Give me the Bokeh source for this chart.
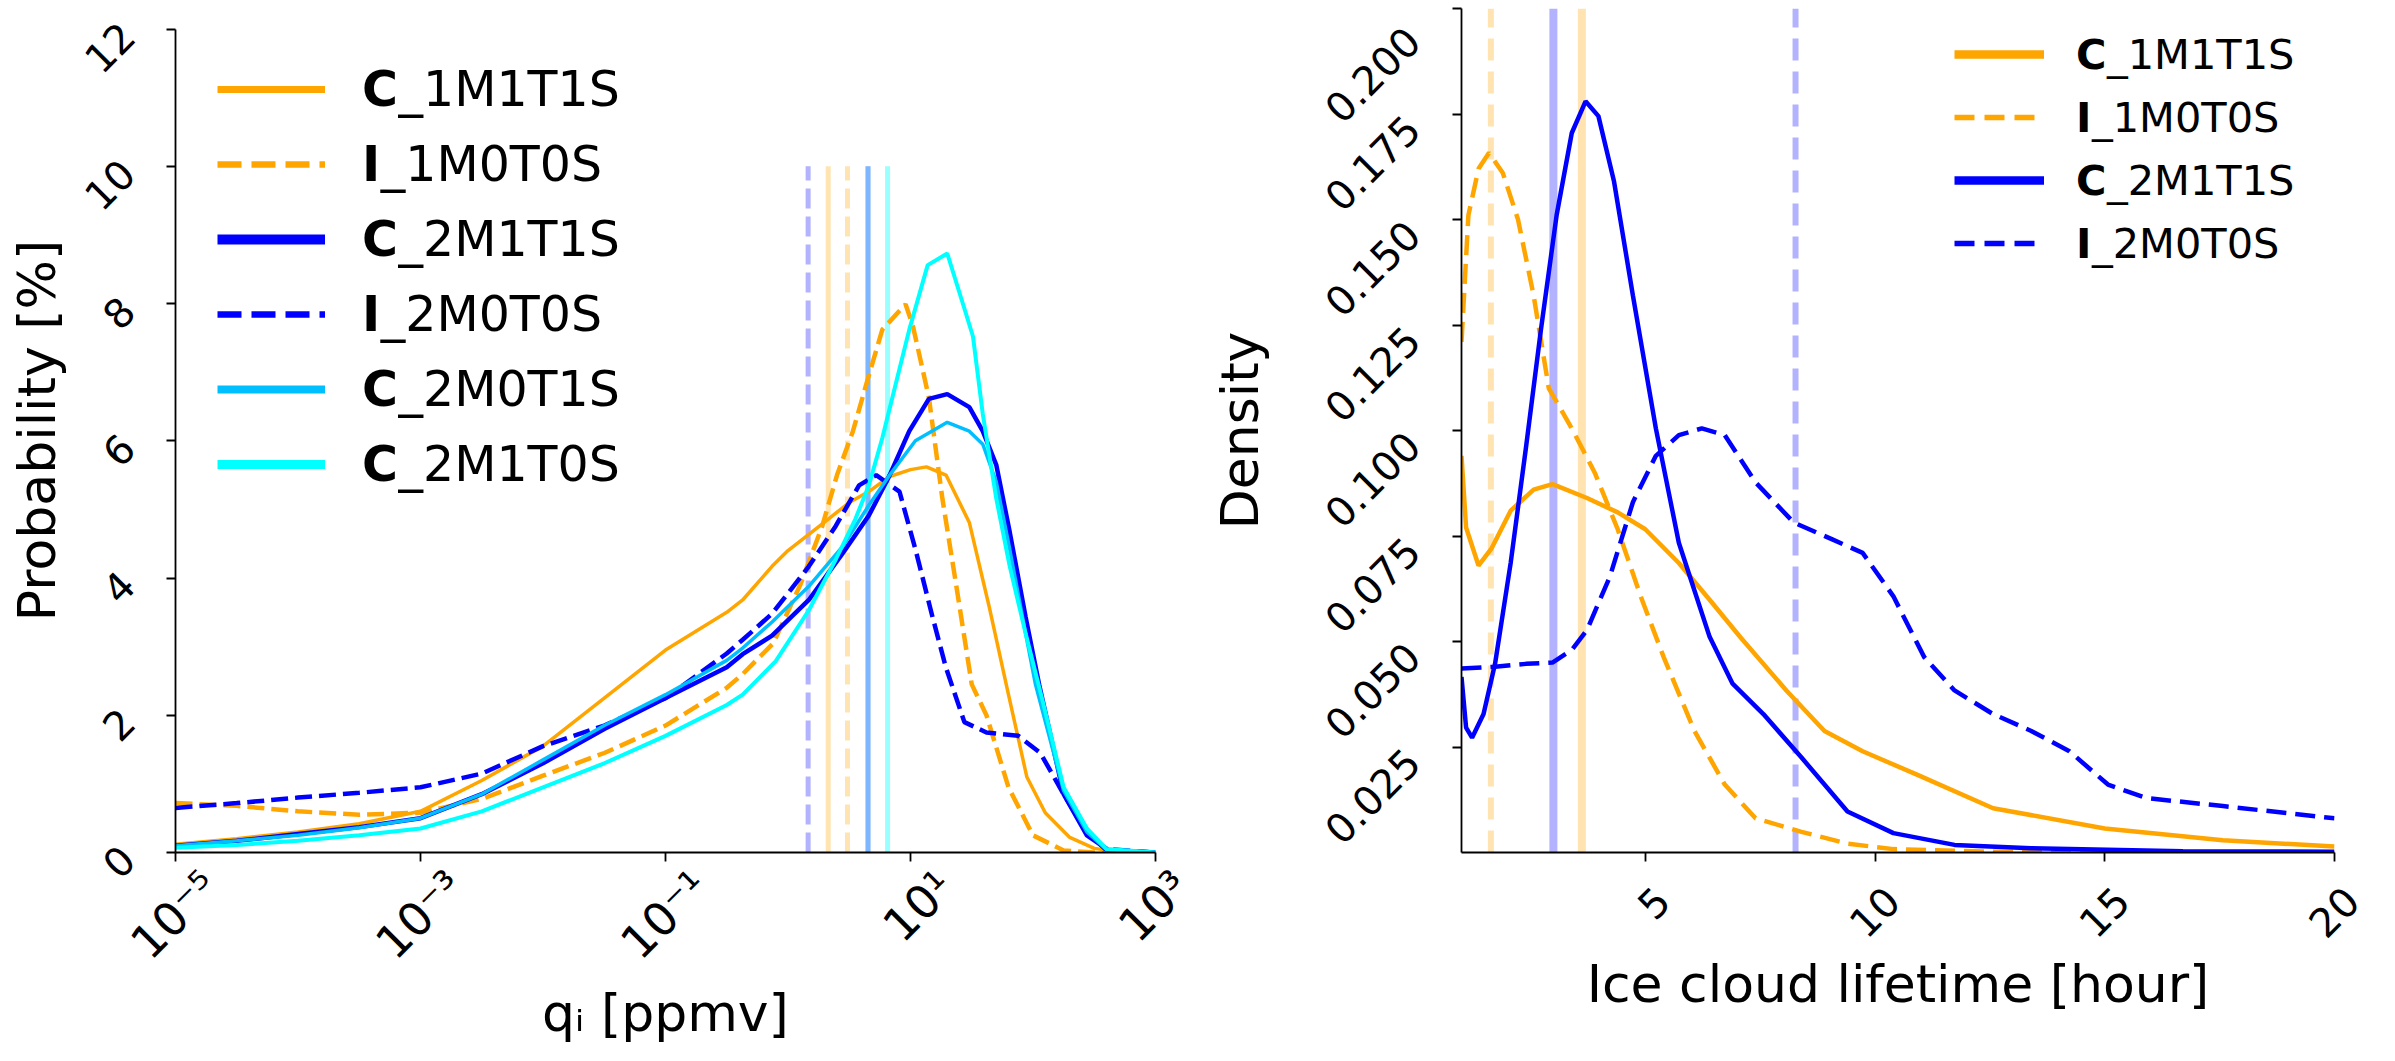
import math
from bokeh.plotting import figure
from bokeh.layouts import row
from bokeh.models import (FixedTicker, Legend, LegendItem, Label,
                          CustomJSTickFormatter, Range1d)
from bokeh.core.properties import value
from bokeh.embed import file_html
from bokeh.resources import INLINE

FONT = "DejaVu Sans"

# ---------------- left panel: q_i distributions (x given as log10 of ppmv) ----------------
qi_series = ["C_1M1T1S", "I_1M0T0S", "C_2M1T1S", "I_2M0T0S", "C_2M0T1S", "C_2M1T0S"]

c1m1t1s_log_qi = [-5, -4.5, -4, -3.5, -3, -2.5, -2, -1.5, -1, -0.5, -0.37, -0.13, 0.0, 0.28, 0.5, 0.66,
                  0.83, 1.0, 1.13, 1.29, 1.48, 1.64, 1.8, 1.95, 2.1, 2.3, 2.5, 2.7, 3.0]
c1m1t1s_prob = [0.12, 0.2, 0.3, 0.42, 0.6, 1.05, 1.55, 2.25, 2.95, 3.5, 3.68, 4.17, 4.4, 4.79, 5.1, 5.26,
                5.48, 5.58, 5.62, 5.5, 4.81, 3.6, 2.3, 1.1, 0.58, 0.22, 0.06, 0.01, 0.0]

i1m0t0s_log_qi = [-5, -4.5, -4, -3.5, -3, -2.5, -2, -1.5, -1, -0.5, -0.37, -0.12, 0.1, 0.28, 0.4, 0.53,
                  0.64, 0.77, 0.96, 1.02, 1.15, 1.26, 1.37, 1.5, 1.62, 1.8, 2.0, 2.25, 2.5, 3.0]
i1m0t0s_prob = [0.72, 0.68, 0.6, 0.55, 0.58, 0.78, 1.12, 1.45, 1.85, 2.4, 2.6, 3.05, 3.9, 4.76, 5.5, 6.14,
                6.83, 7.62, 7.99, 7.67, 6.63, 5.16, 3.93, 2.45, 2.0, 0.95, 0.25, 0.03, 0.0, 0.0]

c2m1t1s_log_qi = [-5, -4.5, -4, -3.5, -3, -2.5, -2, -1.5, -1, -0.5, -0.37, -0.13, 0.17, 0.45, 0.66, 0.83,
                  0.99, 1.15, 1.3, 1.48, 1.59, 1.7, 1.81, 1.94, 2.05, 2.25, 2.44, 2.62, 3.0]
c2m1t1s_prob = [0.1, 0.17, 0.27, 0.37, 0.5, 0.85, 1.3, 1.8, 2.25, 2.7, 2.89, 3.16, 3.68, 4.37, 4.91, 5.5,
                6.14, 6.61, 6.68, 6.49, 6.14, 5.65, 4.67, 3.43, 2.45, 0.85, 0.25, 0.03, 0.0]

i2m0t0s_log_qi = [-5, -4.5, -4, -3.5, -3, -2.5, -2, -1.5, -1, -0.5, -0.37, -0.13, 0.17, 0.39, 0.58, 0.72,
                  0.91, 1.04, 1.18, 1.29, 1.44, 1.62, 1.88, 2.06, 2.25, 2.44, 2.59, 3.0]
i2m0t0s_prob = [0.65, 0.72, 0.8, 0.87, 0.95, 1.15, 1.55, 1.85, 2.25, 2.9, 3.1, 3.48, 4.17, 4.76, 5.35, 5.5,
                5.26, 4.42, 3.43, 2.69, 1.9, 1.75, 1.7, 1.45, 0.85, 0.3, 0.05, 0.0]

c2m0t1s_log_qi = [-5, -4.5, -4, -3.5, -3, -2.5, -2, -1.5, -1, -0.5, -0.37, -0.13, 0.17, 0.45, 0.66, 0.83,
                  1.04, 1.3, 1.48, 1.59, 1.7, 1.81, 1.94, 2.02, 2.25, 2.44, 2.6, 3.0]
c2m0t1s_prob = [0.1, 0.17, 0.25, 0.36, 0.5, 0.85, 1.35, 1.85, 2.3, 2.8, 2.98, 3.36, 3.88, 4.47, 5.06, 5.5,
                6.0, 6.27, 6.14, 5.95, 5.4, 4.42, 3.19, 2.45, 0.9, 0.3, 0.04, 0.0]

c2m1t0s_log_qi = [-5, -4.5, -4, -3.5, -3, -2.5, -2, -1.5, -1, -0.5, -0.37, -0.1, 0.17, 0.39, 0.55, 0.66,
                  0.77, 0.88, 0.99, 1.14, 1.3, 1.45, 1.51, 1.59, 1.7, 1.81, 1.94, 2.08, 2.25, 2.44, 2.6, 3.0]
c2m1t0s_prob = [0.07, 0.11, 0.17, 0.25, 0.35, 0.6, 0.95, 1.3, 1.7, 2.15, 2.3, 2.79, 3.53, 4.27, 4.86, 5.35,
                6.04, 6.83, 7.62, 8.56, 8.73, 7.87, 7.52, 6.39, 5.16, 4.17, 3.19, 2.2, 0.95, 0.35, 0.05, 0.0]

# median q_i (ppmv) per series, same order as qi_series
qi_medians = [2.13, 3.06, 4.5, 1.46, 4.5, 6.5]

qi_ticks = [1e-5, 1e-3, 1e-1, 1e1, 1e3]
qi_tick_labels = ["10\u207b\u2075", "10\u207b\u00b3", "10\u207b\u00b9", "10\u00b9", "10\u00b3"]
prob_ticks = [0, 2, 4, 6, 8, 10, 12]

# ---------------- right panel: ice cloud lifetime densities ----------------
life_series = ["C_1M1T1S", "I_1M0T0S", "C_2M1T1S", "I_2M0T0S"]

c1m1t1s_hours = [1.0, 1.1, 1.37, 1.65, 2.07, 2.57, 2.98, 3.73, 4.4, 5.0, 5.73, 6.4, 7.07, 8.07, 8.9,
                 9.73, 10.9, 12.57, 15.0, 17.57, 20.0]
c1m1t1s_density = [0.094, 0.077, 0.068, 0.072, 0.081, 0.086, 0.0873, 0.084, 0.0806, 0.0766, 0.0686,
                   0.0599, 0.051, 0.0384, 0.0288, 0.024, 0.0185, 0.0105, 0.0057, 0.0029, 0.0014]

i1m0t0s_hours = [1.0, 1.15, 1.37, 1.6, 1.9, 2.23, 2.57, 2.9, 3.4, 3.9, 4.4, 4.9, 5.4, 6.07, 6.73, 7.4,
                 8.4, 9.4, 10.4, 12.57, 15.0, 20.0]
i1m0t0s_density = [0.121, 0.151, 0.162, 0.1658, 0.161, 0.150, 0.132, 0.110, 0.1005, 0.090, 0.0766,
                   0.0607, 0.0463, 0.0288, 0.0161, 0.0081, 0.0049, 0.0021, 0.0008, 0.0002, 0.0, 0.0]

c2m1t1s_hours = [1.0, 1.1, 1.23, 1.48, 1.73, 2.07, 2.4, 2.73, 3.07, 3.4, 3.7, 3.98, 4.32, 4.73, 5.23,
                 5.73, 6.4, 6.9, 7.57, 8.4, 9.4, 10.4, 11.73, 13.4, 16.7, 20.0]
c2m1t1s_density = [0.0416, 0.0296, 0.0272, 0.0328, 0.0447, 0.0686, 0.0957, 0.124, 0.151, 0.1705, 0.178,
                   0.1745, 0.159, 0.132, 0.1005, 0.0734, 0.0511, 0.040, 0.0328, 0.0225, 0.0097, 0.0046,
                   0.0018, 0.001, 0.0003, 0.0002]

i2m0t0s_hours = [1.0, 1.73, 2.4, 2.98, 3.4, 3.73, 4.23, 4.73, 5.23, 5.73, 6.23, 6.73, 7.4, 8.23, 9.07,
                 9.73, 10.4, 11.07, 11.73, 12.57, 13.4, 14.23, 15.07, 15.9, 17.57, 20.0]
i2m0t0s_density = [0.0436, 0.044, 0.0447, 0.045, 0.048, 0.0527, 0.0654, 0.083, 0.094, 0.0989, 0.1005,
                   0.0989, 0.0877, 0.0782, 0.0742, 0.071, 0.0607, 0.0463, 0.0384, 0.0328, 0.0288, 0.024,
                   0.0161, 0.0129, 0.011, 0.0081]

# median lifetime (hour) per series, same order as life_series
life_medians = [3.62, 1.64, 3.0, 8.27]

life_ticks = [5, 10, 15, 20]
density_ticks = [0.025, 0.05, 0.075, 0.1, 0.125, 0.15, 0.175, 0.2]

# ---------------- styles ----------------
COLORS = {"C_1M1T1S": "#FFA500", "I_1M0T0S": "#FFA500", "C_2M1T1S": "#0000FF",
          "I_2M0T0S": "#0000FF", "C_2M0T1S": "#00BFFF", "C_2M1T0S": "#00FFFF"}
DASHED = {"I_1M0T0S", "I_2M0T0S"}
LEFT_LW = {"C_1M1T1S": 3.5, "I_1M0T0S": 4.5, "C_2M1T1S": 4.5, "I_2M0T0S": 4.5,
           "C_2M0T1S": 3.5, "C_2M1T0S": 4.0}
LEFT_LEG_LW = {"C_1M1T1S": 7, "I_1M0T0S": 6.5, "C_2M1T1S": 10, "I_2M0T0S": 6.5,
               "C_2M0T1S": 8, "C_2M1T0S": 9}
MED_ALPHA = {"C_1M1T1S": 0.3, "I_1M0T0S": 0.3, "C_2M1T1S": 0.3, "I_2M0T0S": 0.3,
             "C_2M0T1S": 0.3, "C_2M1T0S": 0.4}
PREFIX_W = {"C": 0.734, "I": 0.372}   # DejaVu Sans Bold advance (em)


def style_axes(p, tick_fs):
    for ax in (p.xaxis[0], p.yaxis[0]):
        ax.axis_line_width = 1.8
        ax.axis_line_color = "black"
        ax.major_tick_line_width = 1.8
        ax.major_tick_line_color = "black"
        ax.major_tick_out = 9
        ax.major_tick_in = 0
        ax.minor_tick_line_color = None
        ax.major_label_text_font = FONT
        ax.major_label_text_font_size = f"{tick_fs}px"
        ax.major_label_text_color = "black"
        ax.major_label_orientation = math.pi / 4
        ax.axis_label_text_font = FONT
        ax.axis_label_text_font_size = "52px"
        ax.axis_label_text_font_style = "normal"
        ax.axis_label_text_color = "black"
    p.xgrid.visible = False
    p.ygrid.visible = False
    p.outline_line_color = None
    p.background_fill_color = "white"
    p.border_fill_color = "white"


def custom_legend(p, names, widths, dash, x0, glyph_w, standoff, row_h, pitch, top_center, fs):
    items = []
    for n in names:
        prox = p.line(x=[float("nan")], y=[float("nan")], line_color=COLORS[n], line_width=widths[n],
                      line_dash=(dash if n in DASHED else "solid"))
        items.append(LegendItem(label=value(n[0]), renderers=[prox]))
    n_items = len(names)
    spacing = int(pitch - row_h)
    height = n_items * row_h + (n_items - 1) * spacing
    bottom = top_center + row_h / 2 - height
    leg = Legend(items=items, location=(x0, bottom), orientation="vertical",
                 glyph_width=int(glyph_w), glyph_height=int(row_h), label_height=int(row_h),
                 label_width=10, label_standoff=int(standoff), spacing=spacing, padding=0, margin=0,
                 border_line_color=None, background_fill_alpha=0,
                 label_text_font=FONT, label_text_font_size=f"{fs}px",
                 label_text_font_style="bold", label_text_baseline="middle",
                 label_text_color="black")
    p.add_layout(leg)
    tx = x0 + glyph_w + standoff
    for i, n in enumerate(names):
        p.add_layout(Label(x=tx + PREFIX_W[n[0]] * fs, y=top_center - i * (row_h + spacing),
                           x_units="screen", y_units="screen", text=n[1:],
                           text_align="left", text_baseline="middle",
                           text_font=FONT, text_font_size=f"{fs}px", text_color="black"))


# ================= left figure =================
p1 = figure(width=1200, height=1045, x_axis_type="log",
            x_range=Range1d(1e-5, 1e3), y_range=Range1d(0, 12.30),
            output_backend="svg", toolbar_location=None,
            min_border_left=175, min_border_right=45, min_border_top=8, min_border_bottom=186)
style_axes(p1, 40)
p1.xaxis.ticker = FixedTicker(ticks=qi_ticks, minor_ticks=[])
p1.xaxis.formatter = CustomJSTickFormatter(
    args=dict(tvals=qi_ticks, tlabels=qi_tick_labels),
    code="""
    let best = 0, err = Infinity;
    for (let i = 0; i < tvals.length; i++) {
        const e = Math.abs(Math.log10(tick) - Math.log10(tvals[i]));
        if (e < err) { err = e; best = i; }
    }
    return "\\n" + tlabels[best];
    """)
p1.xaxis.major_label_text_font_size = "46px"
p1.xaxis.major_label_text_line_height = 1.85
p1.xaxis.major_label_standoff = -18
p1.xaxis.axis_label = "q\u1d62 [ppmv]"
p1.xaxis.axis_label_standoff = -44
p1.yaxis.ticker = FixedTicker(ticks=prob_ticks, minor_ticks=[])
p1.yaxis.bounds = (0, 12)
p1.yaxis.major_label_standoff = 39
p1.yaxis.axis_label = "Probability [%]"
p1.yaxis.axis_label_standoff = 0

left_x = [c1m1t1s_log_qi, i1m0t0s_log_qi, c2m1t1s_log_qi, i2m0t0s_log_qi, c2m0t1s_log_qi, c2m1t0s_log_qi]
left_y = [c1m1t1s_prob, i1m0t0s_prob, c2m1t1s_prob, i2m0t0s_prob, c2m0t1s_prob, c2m1t0s_prob]

for n, med in zip(qi_series, qi_medians):
    p1.segment(x0=[med], y0=[0], x1=[med], y1=[10], line_color=COLORS[n], line_alpha=MED_ALPHA[n],
               line_width=5, line_dash=("20 8" if n in DASHED else "solid"))

for n, xs, ys in zip(qi_series, left_x, left_y):
    p1.line([10 ** e for e in xs], ys, line_color=COLORS[n], line_width=LEFT_LW[n],
            line_dash=("17 7" if n in DASHED else "solid"))

custom_legend(p1, qi_series, LEFT_LEG_LW, "24 10", 42, 108, 37, 60, 75, 762.6, 49)

# ================= right figure =================
p2 = figure(width=1179, height=1045, x_range=Range1d(1, 20), y_range=Range1d(0, 0.2),
            output_backend="svg", toolbar_location=None,
            min_border_left=261, min_border_right=45, min_border_top=8, min_border_bottom=186)
style_axes(p2, 40)
p2.xaxis.ticker = FixedTicker(ticks=life_ticks, minor_ticks=[])
p2.xaxis.formatter = CustomJSTickFormatter(code='return "\\n" + tick.toFixed(0);')
p2.xaxis.major_label_text_line_height = 1.1
p2.xaxis.major_label_standoff = 15
p2.xaxis.axis_label = "Ice cloud lifetime [hour]"
p2.xaxis.axis_label_standoff = -30
p2.yaxis.ticker = FixedTicker(ticks=density_ticks, minor_ticks=[])
p2.yaxis.formatter = CustomJSTickFormatter(code='return "\\n" + tick.toFixed(3);')
p2.yaxis.major_label_text_line_height = 0.55
p2.yaxis.major_label_standoff = 48
p2.yaxis.axis_label = "Density"
p2.yaxis.axis_label_standoff = 0

right_x = [c1m1t1s_hours, i1m0t0s_hours, c2m1t1s_hours, i2m0t0s_hours]
right_y = [c1m1t1s_density, i1m0t0s_density, c2m1t1s_density, i2m0t0s_density]

for n, med in zip(life_series, life_medians):
    p2.segment(x0=[med], y0=[0], x1=[med], y1=[0.2], line_color=COLORS[n], line_alpha=MED_ALPHA[n],
               line_width=(6 if n in DASHED else 8), line_dash=("22 11" if n in DASHED else "solid"))

for n, xs, ys in zip(life_series, right_x, right_y):
    p2.line(xs, ys, line_color=COLORS[n], line_width=4.5,
            line_dash=("20 9" if n in DASHED else "solid"))

RIGHT_LEG_LW = {"C_1M1T1S": 8.5, "I_1M0T0S": 5.5, "C_2M1T1S": 8.5, "I_2M0T0S": 5.5}
custom_legend(p2, life_series, RIGHT_LEG_LW, "20 10", 493, 90, 32, 50, 63, 798, 41.5)

layout = row(p1, p2)
open("out.html", "w").write(file_html(layout, INLINE))
